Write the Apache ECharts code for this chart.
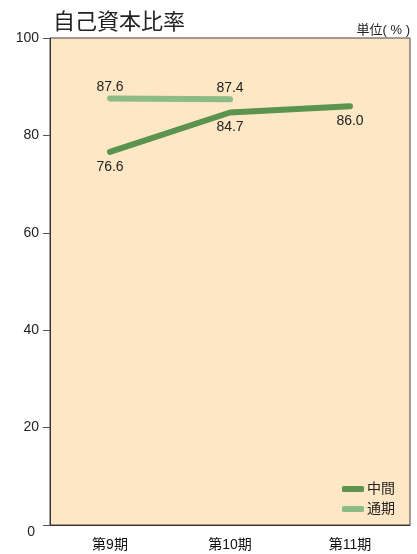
<!DOCTYPE html>
<html><head><meta charset="utf-8">
<script src="https://cdn.jsdelivr.net/npm/echarts@6/dist/echarts.min.js"></script>
<style>html,body{margin:0;padding:0;background:#fff}#c{width:417px;height:554px}</style>
</head><body><div id="c"></div>
<script>
const categories = ['第9期', '第10期', '第11期'];
const interimValues = [76.6, 84.7, 86.0];
const fullYearValues = [87.6, 87.4, null];
const yTicks = [0, 20, 40, 60, 80, 100];
const seriesNames = ['中間', '通期'];
const titleText = '自己資本比率';
const unitText = '単位( % )';

const FONT = '"Liberation Sans", "Noto Sans CJK JP", sans-serif';
const fmt = p => (typeof p.value === 'number' ? p.value.toFixed(1) : '');
const chart = echarts.init(document.getElementById('c'));
chart.setOption({
  backgroundColor: '#fff',
  animation: false,
  title: [
    { text: titleText, left: 48, top: 7, textStyle: { fontSize: 22, fontWeight: 'normal', color: '#222', fontFamily: FONT } },
    { text: unitText, right: 2, top: 19, textStyle: { fontSize: 13, fontWeight: 'normal', color: '#222', fontFamily: FONT } }
  ],
  grid: { left: 50, right: 7, top: 38, bottom: 29, show: true, backgroundColor: '#fde7c4', borderColor: '#444', borderWidth: 1 },
  legend: {
    orient: 'vertical', right: 17, top: 477, itemWidth: 22, itemHeight: 6, itemGap: 6,
    icon: 'roundRect',
    data: seriesNames,
    textStyle: { fontSize: 14, color: '#222', fontFamily: FONT, padding: [0, 0, 0, -2] }
  },
  xAxis: {
    type: 'category', data: categories, boundaryGap: true,
    axisLine: { lineStyle: { color: '#333', width: 1 } },
    axisTick: { show: false },
    axisLabel: { fontSize: 14, color: '#111', margin: 13, fontFamily: FONT }
  },
  yAxis: {
    type: 'value', min: yTicks[0], max: yTicks[yTicks.length - 1], interval: 20,
    axisLine: { show: true, lineStyle: { color: '#333', width: 1 } },
    axisTick: { show: true, length: 7, lineStyle: { color: '#555' } },
    splitLine: { show: false },
    axisLabel: {
      fontSize: 14, color: '#222', margin: 11, fontFamily: FONT,
      formatter: v => v === 0 ? '{z|0}' : String(v),
      rich: { z: { fontSize: 14, color: '#222', fontFamily: FONT, padding: [14, 4, 0, 0] } }
    }
  },
  series: [
    {
      name: seriesNames[0], type: 'line', data: interimValues,
      symbol: 'circle', symbolSize: 2, showSymbol: true,
      lineStyle: { color: '#5b934f', width: 6, cap: 'round', join: 'round' },
      itemStyle: { color: '#5b934f' },
      label: { show: true, position: 'bottom', distance: 7, fontSize: 14, color: '#222', fontFamily: FONT, formatter: fmt },
      z: 3
    },
    {
      name: seriesNames[1], type: 'line', data: fullYearValues,
      symbol: 'circle', symbolSize: 2, showSymbol: true,
      lineStyle: { color: '#8dbb85', width: 6, cap: 'round', join: 'round' },
      itemStyle: { color: '#8dbb85' },
      label: { show: true, position: 'top', distance: 3, fontSize: 14, color: '#222', fontFamily: FONT, formatter: fmt },
      z: 2
    }
  ]
});
</script></body></html>
